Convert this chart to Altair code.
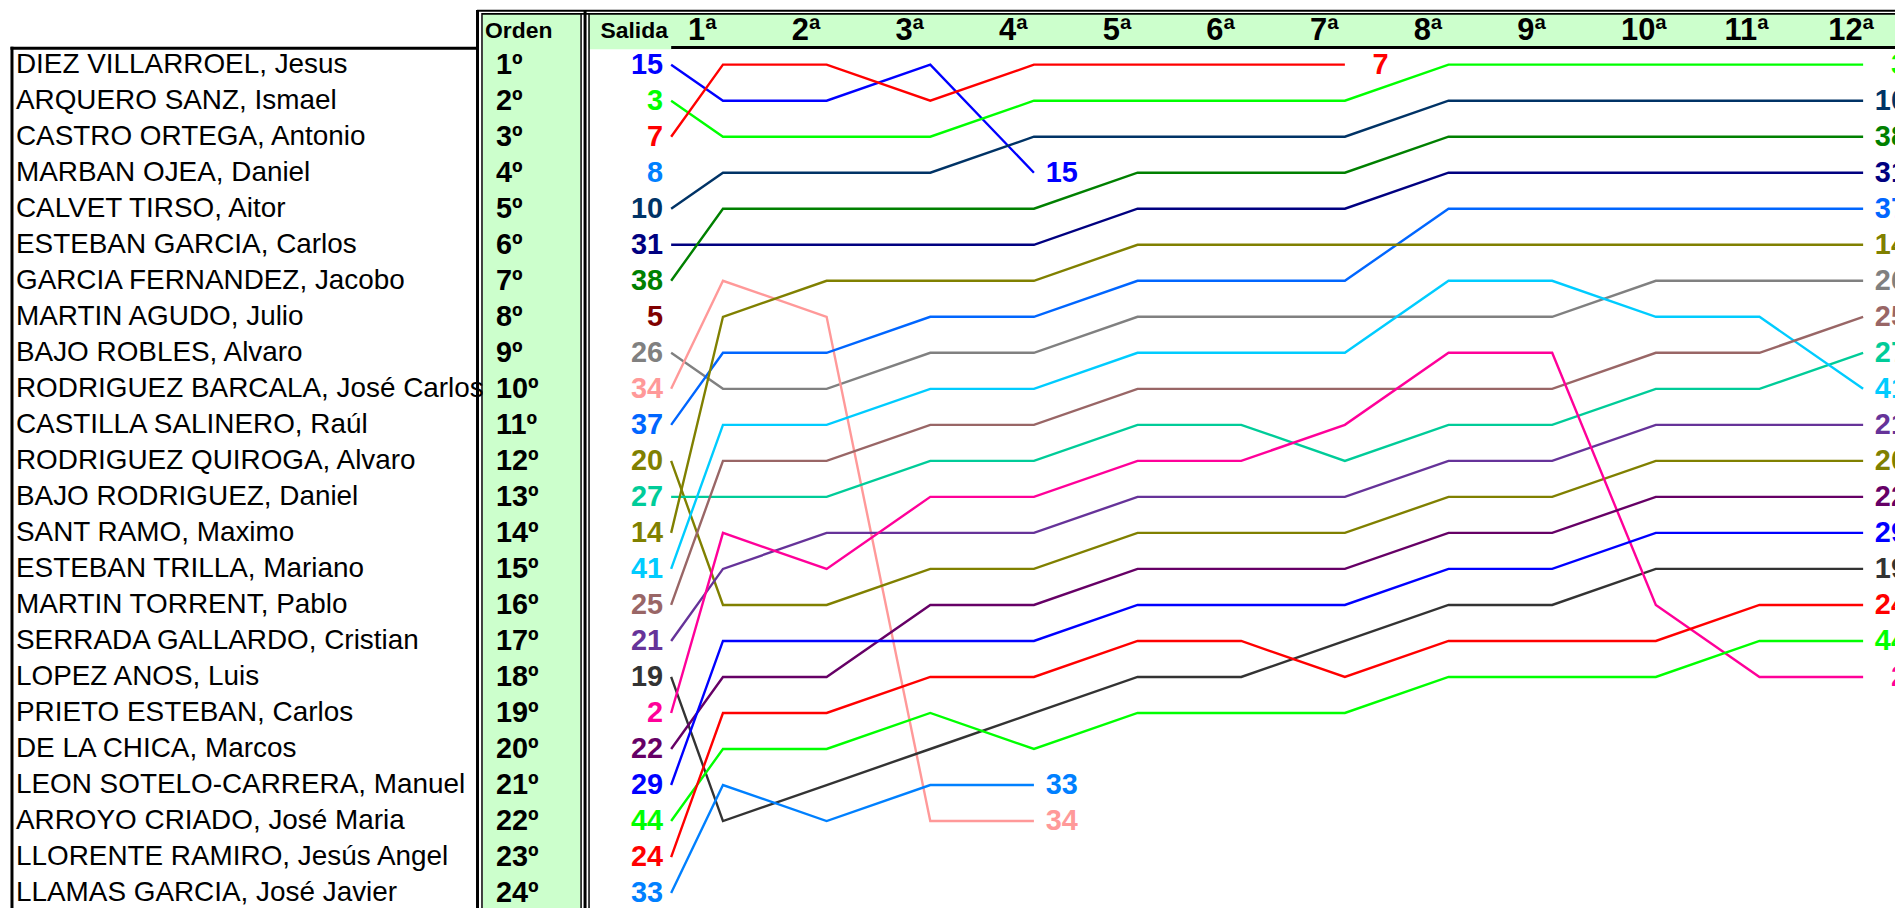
import altair as alt
import pandas as pd

# ---------------- data ----------------
names = [
    "DIEZ VILLARROEL, Jesus", "ARQUERO SANZ, Ismael", "CASTRO ORTEGA, Antonio",
    "MARBAN OJEA, Daniel", "CALVET TIRSO, Aitor", "ESTEBAN GARCIA, Carlos",
    "GARCIA FERNANDEZ, Jacobo", "MARTIN AGUDO, Julio", "BAJO ROBLES, Alvaro",
    "RODRIGUEZ BARCALA, José Carlos", "CASTILLA SALINERO, Raúl",
    "RODRIGUEZ QUIROGA, Alvaro", "BAJO RODRIGUEZ, Daniel", "SANT RAMO, Maximo",
    "ESTEBAN TRILLA, Mariano", "MARTIN TORRENT, Pablo", "SERRADA GALLARDO, Cristian",
    "LOPEZ ANOS, Luis", "PRIETO ESTEBAN, Carlos", "DE LA CHICA, Marcos",
    "LEON SOTELO-CARRERA, Manuel", "ARROYO CRIADO, José Maria",
    "LLORENTE RAMIRO, Jesús Angel", "LLAMAS GARCIA, José Javier",
]
orden_labels = ["1º", "2º", "3º", "4º", "5º", "6º", "7º", "8º", "9º", "10º", "11º", "12º",
                "13º", "14º", "15º", "16º", "17º", "18º", "19º", "20º", "21º", "22º", "23º", "24º"]
round_labels = ["1ª", "2ª", "3ª", "4ª", "5ª", "6ª", "7ª", "8ª", "9ª", "10ª", "11ª", "12ª"]

# starting order (Salida), top to bottom
start_bibs = [15, 3, 7, 8, 10, 31, 38, 5, 26, 34, 37, 20, 27, 14, 41, 25, 21, 19, 2, 22, 29, 44, 24, 33]

# position after each round (1ª, 2ª, ...)
pos_15 = [2, 2, 1, 4]
pos_3 = [3, 3, 3, 2, 2, 2, 2, 1, 1, 1, 1, 1]
pos_7 = [1, 1, 2, 1, 1, 1, 1]
pos_8 = []
pos_10 = [4, 4, 4, 3, 3, 3, 3, 2, 2, 2, 2, 2]
pos_31 = [6, 6, 6, 6, 5, 5, 5, 4, 4, 4, 4, 4]
pos_38 = [5, 5, 5, 5, 4, 4, 4, 3, 3, 3, 3, 3]
pos_5 = []
pos_26 = [10, 10, 9, 9, 8, 8, 8, 8, 8, 7, 7, 7]
pos_34 = [7, 8, 22, 22]
pos_37 = [9, 9, 8, 8, 7, 7, 7, 5, 5, 5, 5, 5]
pos_20 = [16, 16, 15, 15, 14, 14, 14, 13, 13, 12, 12, 12]
pos_27 = [13, 13, 12, 12, 11, 11, 12, 11, 11, 10, 10, 9]
pos_14 = [8, 7, 7, 7, 6, 6, 6, 6, 6, 6, 6, 6]
pos_41 = [11, 11, 10, 10, 9, 9, 9, 7, 7, 8, 8, 10]
pos_25 = [12, 12, 11, 11, 10, 10, 10, 10, 10, 9, 9, 8]
pos_21 = [15, 14, 14, 14, 13, 13, 13, 12, 12, 11, 11, 11]
pos_19 = [22, 21, 20, 19, 18, 18, 17, 16, 16, 15, 15, 15]
pos_2 = [14, 15, 13, 13, 12, 12, 11, 9, 9, 16, 18, 18]
pos_22 = [18, 18, 16, 16, 15, 15, 15, 14, 14, 13, 13, 13]
pos_29 = [17, 17, 17, 17, 16, 16, 16, 15, 15, 14, 14, 14]
pos_44 = [20, 20, 19, 20, 19, 19, 19, 18, 18, 18, 17, 17]
pos_24 = [19, 19, 18, 18, 17, 17, 18, 17, 17, 17, 16, 16]
pos_33 = [21, 22, 21, 21]

positions = {15: pos_15, 3: pos_3, 7: pos_7, 8: pos_8, 10: pos_10, 31: pos_31, 38: pos_38,
             5: pos_5, 26: pos_26, 34: pos_34, 37: pos_37, 20: pos_20, 27: pos_27, 14: pos_14,
             41: pos_41, 25: pos_25, 21: pos_21, 19: pos_19, 2: pos_2, 22: pos_22, 29: pos_29,
             44: pos_44, 24: pos_24, 33: pos_33}

bib_colors = {15: "#0000FF", 3: "#00FF00", 7: "#FF0000", 8: "#0080FF", 10: "#003366",
              31: "#000080", 38: "#008000", 5: "#800000", 26: "#808080", 34: "#FF9999",
              37: "#0066FF", 20: "#808000", 27: "#00CC99", 14: "#808000", 41: "#00CCFF",
              25: "#996666", 21: "#663399", 19: "#333333", 2: "#FF0099", 22: "#660066",
              29: "#0000FF", 44: "#00FF00", 24: "#FF0000", 33: "#0080FF"}

# ---------------- tables ----------------
SALIDA_STEP = 0.5
line_rows, start_rows, end_rows = [], [], []
for row, bib in enumerate(start_bibs, start=1):
    start_rows.append({"bib": str(bib), "step": SALIDA_STEP, "pos": row})
    pts = [(SALIDA_STEP, row)] + [(i + 1, p) for i, p in enumerate(positions[bib])]
    for s, p in pts:
        line_rows.append({"bib": str(bib), "step": s, "pos": p})
    if positions[bib]:
        end_rows.append({"bib": str(bib), "step": len(positions[bib]), "pos": positions[bib][-1]})

lines_df = pd.DataFrame(line_rows)
start_df = pd.DataFrame(start_rows)
end_df = pd.DataFrame(end_rows)
rows_df = pd.DataFrame({"pos": list(range(1, 25)), "name": names, "orden": orden_labels})
rounds_df = pd.DataFrame({"step": list(range(1, 13)), "label": round_labels})
one = pd.DataFrame({"a": [0]})

# ---------------- layout (pixels inside the plot area) ----------------
W, H = 1895, 902
STEP_PX, ROUND1_PX = 104.09, 718.0
ROW_PX, ROW1_PX = 36.17, 55.0
XMIN = 1 - ROUND1_PX / STEP_PX
XMAX = XMIN + W / STEP_PX
YMIN = 1 - ROW1_PX / ROW_PX
YMAX = YMIN + H / ROW_PX

FONT = "Liberation Sans"
GREEN = "#CCFFCC"

xs = alt.Scale(domain=[XMIN, XMAX], nice=False, zero=False)
ys = alt.Scale(domain=[YMIN, YMAX], nice=False, zero=False, reverse=True)
X = alt.X("step:Q", scale=xs, axis=None)
Y = alt.Y("pos:Q", scale=ys, axis=None)
C = alt.Color("bib:N", scale=alt.Scale(domain=[str(b) for b in bib_colors],
                                       range=list(bib_colors.values())), legend=None)


def rect(x1, x2, y1, y2, color=GREEN):
    return alt.Chart(one).mark_rect(color=color).encode(
        x=alt.value(x1), x2=alt.value(x2), y=alt.value(y1), y2=alt.value(y2))


def rule(x1, x2, y1, y2, sw):
    return alt.Chart(one).mark_rule(color="black", strokeWidth=sw).encode(
        x=alt.value(x1), x2=alt.value(x2), y=alt.value(y1), y2=alt.value(y2))


names_layer = alt.Chart(rows_df).mark_text(
    align="left", baseline="middle", font=FONT, fontSize=28, color="black"
).encode(x=alt.value(8), y=Y, text="name:N")

fills = [
    rect(477, 575, 4, H),          # Orden column
    rect(583, W, 4, 37),           # header band
    rect(583, 667, 4, 39.5),       # Salida header
]

borders = [
    rule(471, W, 0.9, 0.9, 2),
    rule(476, W, 4, 4, 1.8),
    rule(471.5, 471.5, 0, H, 3),
    rule(476, 476, 3, H, 1.5),
    rule(575.5, 575.5, 3, H, 1.5),
    rule(579.5, 579.5, 0, H, 3),
    rule(583.5, 583.5, 3, H, 1.5),
    rule(2.5, 471, 38.5, 38.5, 3),
    rule(4, 4, 37, H, 3),
    rule(666, W, 37.8, 37.8, 3),
]

orden_layer = alt.Chart(rows_df).mark_text(
    align="left", baseline="middle", font=FONT, fontSize=29, fontWeight="bold", color="black"
).encode(x=alt.value(490), y=Y, text="orden:N")

hdr_orden = alt.Chart(one).mark_text(
    align="left", baseline="middle", font=FONT, fontSize=23, fontWeight="bold", color="black",
    text="Orden").encode(x=alt.value(479), y=alt.value(21))
hdr_salida = alt.Chart(one).mark_text(
    align="left", baseline="middle", font=FONT, fontSize=23, fontWeight="bold", color="black",
    text="Salida").encode(x=alt.value(595), y=alt.value(21))
hdr_rounds = alt.Chart(rounds_df).mark_text(
    align="left", baseline="middle", font=FONT, fontSize=31, fontWeight="bold", color="black", dx=-35
).encode(x=X, y=alt.value(21), text="label:N")

lines_layer = alt.Chart(lines_df).mark_line(strokeWidth=2.4, clip=True).encode(
    x=X, y=Y, color=C, detail="bib:N", order="step:Q")

start_layer = alt.Chart(start_df).mark_text(
    align="right", baseline="middle", font=FONT, fontSize=29, fontWeight="bold", dx=-8
).encode(x=X, y=Y, text="bib:N", color=C)

end_layer = alt.Chart(end_df).mark_text(
    align="right", baseline="middle", font=FONT, fontSize=29, fontWeight="bold", dx=44, clip=True
).encode(x=X, y=Y, text="bib:N", color=C)

chart = alt.layer(
    names_layer, *fills, *borders, orden_layer, hdr_orden, hdr_salida, hdr_rounds,
    lines_layer, start_layer, end_layer
).properties(
    width=W, height=H, padding=0, autosize=alt.AutoSizeParams(type="none"), background="white"
).configure_view(stroke=None)

chart.save("out.html", embed_options={"renderer": "svg", "actions": False})
